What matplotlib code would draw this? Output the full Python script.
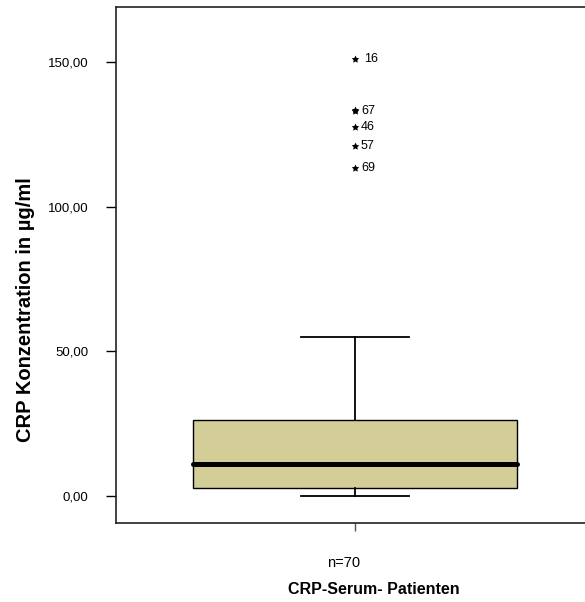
import matplotlib
matplotlib.use("Agg")
import matplotlib.pyplot as plt

plt.rcParams['font.family'] = ['Liberation Sans', 'DejaVu Sans']

# Data
group_label = "n=70"
x_title = "CRP-Serum- Patienten"
y_title = "CRP Konzentration in µg/ml"
q1, median, q3 = 2.8, 11.0, 26.3
whisker_low, whisker_high = 0.0, 55.0
outlier_values = [151.0, 133.1, 133.3, 127.6, 121.0, 113.5]
outlier_ids = ["16", "67", "", "46", "57", "69"]
y_ticks = [0, 50, 100, 150]
y_tick_labels = ["0,00", "50,00", "100,00", "150,00"]

W, H = 585, 602
fig = plt.figure(figsize=(W / 100, H / 100), dpi=100)
ax = fig.add_axes([116 / W, (H - 523) / H, (W - 116) / W, 516 / H])

stats = [dict(med=median, q1=q1, q3=q3, whislo=whisker_low, whishi=whisker_high,
              fliers=[], label="")]
ax.bxp(stats, positions=[1], widths=0.691, capwidths=0.23, patch_artist=True,
       showfliers=False,
       boxprops=dict(facecolor="#D3CE98", edgecolor="black", linewidth=1.0),
       medianprops=dict(color="black", linewidth=3.6, solid_capstyle="round"),
       whiskerprops=dict(color="black", linewidth=1.3),
       capprops=dict(color="black", linewidth=1.3))

ax.scatter([1] * len(outlier_values), outlier_values, marker=(5, 1, 0), s=32,
           color="black", linewidths=0, zorder=5)
for v, lab in zip(outlier_values, outlier_ids):
    if lab:
        ax.annotate(lab, (1, v), xytext=(4.3 if lab != "16" else 6.5, 0),
                    textcoords="offset points", va="center", ha="left", fontsize=9)

ax.set_xlim(0.4904, 1.4904)
ax.set_ylim(-9.33, 169.0)
ax.set_yticks(y_ticks)
ax.set_yticklabels(y_tick_labels, fontsize=9.5)
ax.set_xticks([1])
ax.set_xticklabels([""])
ax.tick_params(axis="y", direction="out", length=7, width=1.0, pad=13)
ax.tick_params(axis="x", direction="out", length=6, width=1.0, color="#555555")
for s in ["left", "bottom", "top"]:
    ax.spines[s].set_linewidth(1.2)
    ax.spines[s].set_color("#222222")
ax.spines["right"].set_visible(False)

fig.text(344 / W, 1 - 567 / H, group_label, ha="center", va="baseline", fontsize=10.5)
fig.text(374 / W, 1 - 594 / H, x_title, ha="center", va="baseline", fontsize=11.5,
         fontweight="bold")
fig.text(26 / W, 1 - 310 / H, y_title, ha="center", va="center", rotation=90,
         fontsize=14.5, fontweight="bold")

fig.savefig("out.png", dpi=100)
